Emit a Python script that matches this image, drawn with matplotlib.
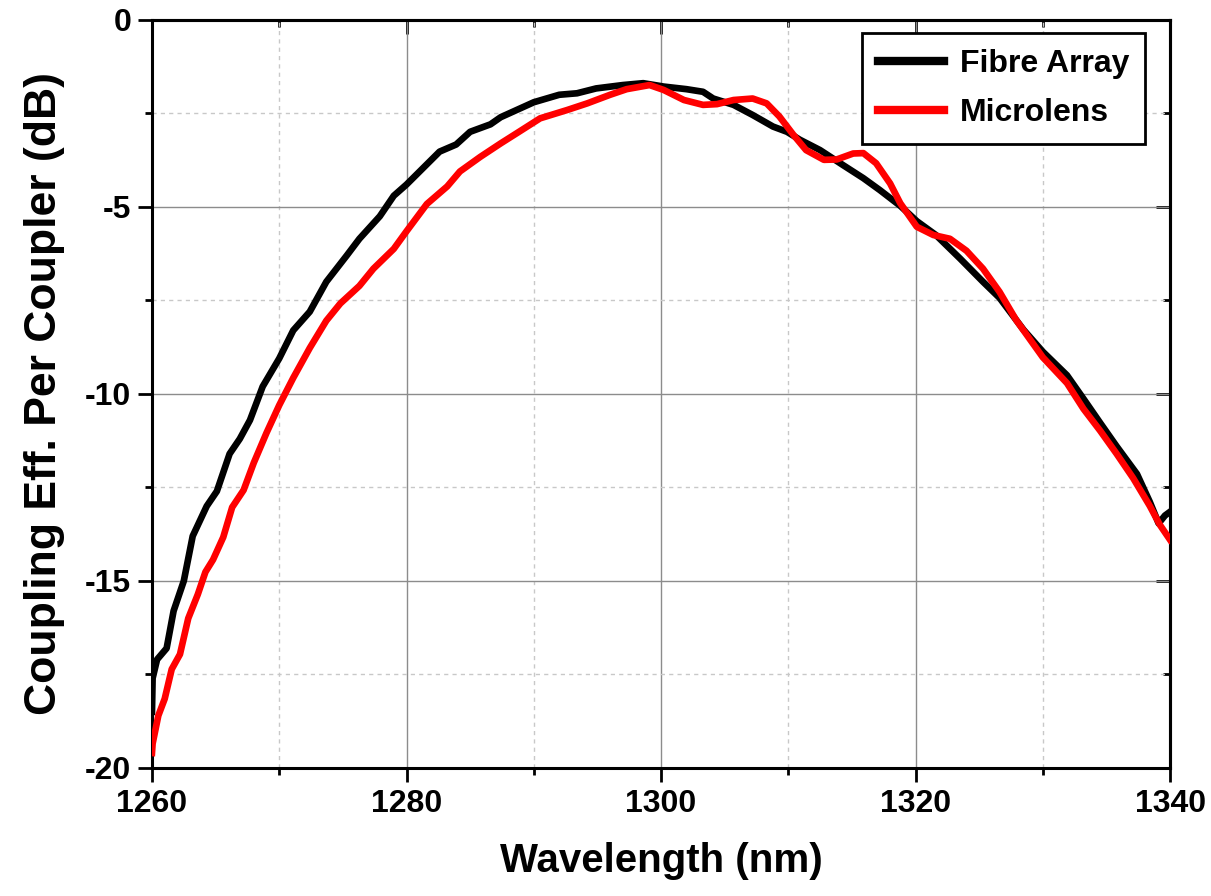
import matplotlib.pyplot as plt
from matplotlib.ticker import MultipleLocator

# Fibre Array (black)
wl_fa = [1260.0, 1260.05, 1260.4, 1261.15, 1261.7, 1262.5, 1263.2, 1264.3, 1265.1, 1266.1,
         1266.9, 1267.7, 1268.7, 1270.0, 1271.1, 1272.4, 1273.7, 1275.3, 1276.3, 1277.9,
         1279.0, 1280.0, 1281.3, 1282.6, 1283.9, 1285.0, 1286.6, 1287.4, 1290.0, 1292.0,
         1293.4, 1294.9, 1297.0, 1298.6, 1300.2, 1302.0, 1303.3, 1304.1, 1305.7, 1307.2,
         1308.8, 1309.9, 1310.9, 1312.5, 1314.3, 1315.9, 1317.2, 1318.8, 1320.1, 1321.6,
         1323.5, 1325.3, 1326.6, 1328.5, 1330.0, 1331.9, 1333.2, 1334.5, 1335.8, 1337.4,
         1338.4, 1339.1, 1339.6, 1340.0]
ce_fa = [-18.5, -17.6, -17.1, -16.8, -15.8, -15.0, -13.8, -13.0, -12.6, -11.6,
         -11.2, -10.7, -9.8, -9.05, -8.3, -7.8, -7.0, -6.3, -5.85, -5.25,
         -4.7, -4.4, -3.96, -3.52, -3.33, -2.99, -2.79, -2.6, -2.2, -2.0,
         -1.96, -1.83, -1.74, -1.69, -1.78, -1.85, -1.92, -2.1, -2.27, -2.54,
         -2.85, -2.99, -3.2, -3.48, -3.88, -4.23, -4.55, -4.97, -5.38, -5.75,
         -6.38, -7.0, -7.43, -8.29, -8.87, -9.5, -10.13, -10.77, -11.4, -12.14,
         -12.88, -13.46, -13.25, -13.15]

# Microlens (red)
wl_ml = [1260.0, 1260.05, 1260.5, 1261.0, 1261.55, 1262.2, 1262.85, 1263.6, 1264.2, 1264.8,
         1265.6, 1266.3, 1267.2, 1268.0, 1269.0, 1270.0, 1271.1, 1272.4, 1273.7, 1274.8,
         1276.3, 1277.4, 1279.0, 1280.0, 1281.6, 1283.2, 1284.2, 1285.8, 1287.4, 1288.7,
         1290.5, 1292.6, 1294.2, 1296.0, 1297.3, 1299.1, 1300.2, 1301.8, 1303.3, 1304.4,
         1305.7, 1307.2, 1308.3, 1309.3, 1310.4, 1311.4, 1312.8, 1313.8, 1315.1, 1315.9,
         1316.9, 1318.0, 1318.8, 1320.1, 1321.4, 1322.7, 1324.0, 1325.3, 1326.6, 1327.9,
         1330.0, 1331.9, 1333.2, 1334.5, 1335.8, 1337.1, 1338.4, 1339.2, 1340.0]
ce_ml = [-19.6, -19.35, -18.6, -18.15, -17.36, -16.96, -16.0, -15.36, -14.76, -14.43,
         -13.83, -13.03, -12.57, -11.84, -11.04, -10.3, -9.57, -8.77, -8.04, -7.58,
         -7.11, -6.65, -6.12, -5.65, -4.92, -4.45, -4.05, -3.66, -3.3, -3.02,
         -2.63, -2.41, -2.23, -2.0, -1.85, -1.74, -1.87, -2.14, -2.27, -2.25,
         -2.14, -2.1, -2.23, -2.58, -3.07, -3.48, -3.74, -3.73, -3.57, -3.56,
         -3.83, -4.37, -4.9, -5.53, -5.75, -5.85, -6.17, -6.65, -7.27, -8.02,
         -9.02, -9.71, -10.4, -10.98, -11.6, -12.25, -12.99, -13.5, -13.9]

x_ticks = [1260, 1280, 1300, 1320, 1340]
y_ticks = [-20, -15, -10, -5, 0]

plt.rcParams['font.family'] = ['Liberation Sans', 'DejaVu Sans']
plt.rcParams['font.weight'] = 'bold'

fig = plt.figure(figsize=(12.11, 8.96), dpi=100)
ax = fig.add_axes([0.1255, 0.1429, 0.8407, 0.8348])

ax.plot(wl_fa, ce_fa, color='black', lw=4.8, label='Fibre Array', zorder=3)
ax.plot(wl_ml, ce_ml, color='#ff0000', lw=4.8, label='Microlens', zorder=4)

ax.set_xlim(1260, 1340)
ax.set_ylim(-20, 0)
ax.set_xticks(x_ticks)
ax.set_yticks(y_ticks)
ax.set_yticklabels([str(v) for v in y_ticks])
ax.xaxis.set_minor_locator(MultipleLocator(10))
ax.yaxis.set_minor_locator(MultipleLocator(2.5))

ax.grid(which='major', color='#8c8c8c', lw=1.0, ls='-', zorder=0)
ax.grid(which='minor', color='#c8c8c8', lw=1.0, ls=(0, (3, 3)), zorder=0)

# bottom/left ticks point out, top/right ticks point in
ax.tick_params(which='both', direction='out', width=2)
ax.tick_params(which='major', length=10, labelsize=23, pad=5)
ax.tick_params(which='minor', length=5)
for s in ax.spines.values():
    s.set_linewidth(2.2)

top = ax.secondary_xaxis('top')
top.set_xticks(x_ticks)
top.xaxis.set_minor_locator(MultipleLocator(10))
top.tick_params(which='both', direction='in', width=2, labeltop=False)
top.tick_params(which='major', length=10)
top.tick_params(which='minor', length=5)
right = ax.secondary_yaxis('right')
right.set_yticks(y_ticks)
right.yaxis.set_minor_locator(MultipleLocator(2.5))
right.tick_params(which='both', direction='in', width=2, labelright=False)
right.tick_params(which='major', length=10)
right.tick_params(which='minor', length=5)
for sec in (top, right):
    for s in sec.spines.values():
        s.set_linewidth(2.2)

ax.set_xlabel('Wavelength (nm)', fontsize=29, fontweight='bold', labelpad=17)
ax.set_ylabel('Coupling Eff. Per Coupler (dB)', fontsize=32, fontweight='bold', labelpad=14)

leg = ax.legend(loc='upper right', fontsize=23, frameon=True, fancybox=False,
                edgecolor='black', handlelength=2.05, handletextpad=0.5,
                borderpad=0.5, labelspacing=0.6, borderaxespad=0,
                bbox_to_anchor=(0.9755, 0.9826))
leg.get_frame().set_linewidth(2)
leg.get_frame().set_alpha(1)
for line in leg.get_lines():
    line.set_linewidth(6)

fig.savefig('out.png', dpi=100)
